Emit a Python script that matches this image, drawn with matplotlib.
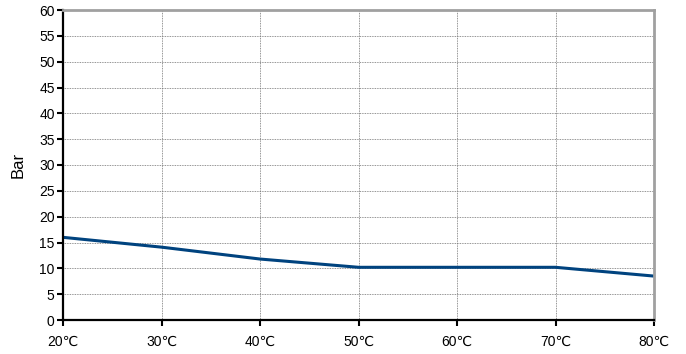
import matplotlib
matplotlib.use("Agg")
import matplotlib.pyplot as plt

plt.rcParams['font.family'] = ['Liberation Sans', 'DejaVu Sans']

temps = [20, 30, 40, 50, 60, 70, 80]
labels = ["20℃", "30℃", "40℃", "50℃", "60℃", "70℃", "80℃"]
bar = [16.0, 14.1, 11.8, 10.2, 10.2, 10.2, 8.5]

fig = plt.figure(figsize=(6.86, 3.54), dpi=100)
ax = fig.add_axes([63 / 686, 34 / 354, 591 / 686, 310 / 354])

ax.plot(temps, bar, color='#00437f', linewidth=2.2, solid_capstyle='butt')

ax.set_xlim(20, 80)
ax.set_ylim(0, 60)
ax.set_xticks(temps)
ax.set_xticklabels(labels)
ax.set_yticks(range(0, 61, 5))
ax.grid(True, color='#707070', linestyle=(0, (1, 1)), linewidth=0.6)
ax.set_axisbelow(True)

for s in ['left', 'bottom']:
    ax.spines[s].set_color('black')
    ax.spines[s].set_linewidth(1.6)
for s in ['top', 'right']:
    ax.spines[s].set_color('#a0a0a0')
    ax.spines[s].set_linewidth(2)

ax.tick_params(axis='y', direction='out', length=4, width=1.5, labelsize=10, pad=2)
ax.tick_params(axis='x', direction='out', length=4, width=1.5, labelsize=10, pad=7)
ax.set_ylabel("Bar", fontsize=12, labelpad=10)

fig.savefig("out.png", dpi=100)
